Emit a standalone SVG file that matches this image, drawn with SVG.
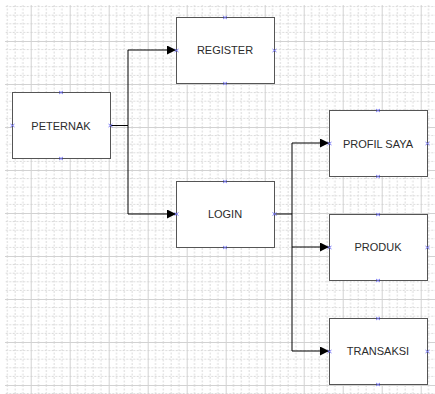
<svg xmlns="http://www.w3.org/2000/svg" width="435" height="394" viewBox="0 0 435 394">
<style>
.box{fill:#ffffff;stroke:#555555;stroke-width:1}
.lbl{font-family:"Liberation Sans",Arial,sans-serif;font-size:11px;fill:#2b2b2b;text-anchor:middle}
.edge{fill:none;stroke:#000000;stroke-width:1}
.cp{fill:none;stroke:#6f6ff5;stroke-width:0.9}
.gmin{stroke:#d9d9d9;stroke-width:1;stroke-dasharray:2,1.5}
.gmaj{stroke:#d2d2d2;stroke-width:1}
</style>
<defs>
<pattern id="grid" patternUnits="userSpaceOnUse" x="-8.3" y="-2" width="39" height="43">
<line class="gmin" x1="7.8" y1="0" x2="7.8" y2="43"/>
<line class="gmin" x1="15.6" y1="0" x2="15.6" y2="43"/>
<line class="gmin" x1="23.4" y1="0" x2="23.4" y2="43"/>
<line class="gmin" x1="31.2" y1="0" x2="31.2" y2="43"/>
<line class="gmin" x1="0" y1="8.6" x2="39" y2="8.6"/>
<line class="gmin" x1="0" y1="17.2" x2="39" y2="17.2"/>
<line class="gmin" x1="0" y1="25.8" x2="39" y2="25.8"/>
<line class="gmin" x1="0" y1="34.4" x2="39" y2="34.4"/>
<line class="gmaj" x1="0.5" y1="0" x2="0.5" y2="43"/>
<line class="gmaj" x1="0" y1="0.5" x2="39" y2="0.5"/>
</pattern>
<marker id="arr" viewBox="0 0 10 10" refX="10" refY="5" markerWidth="9" markerHeight="9" markerUnits="userSpaceOnUse" orient="auto">
<path d="M0,0 L10,5 L0,10 Z" fill="#000000"/>
</marker>
<path id="x" class="cp" d="M-2,-1.5 L2,1.5 M-2,1.5 L2,-1.5"/>
</defs>
<rect x="0" y="0" width="435" height="394" fill="#ffffff"/>
<rect x="5" y="5" width="430" height="389" fill="url(#grid)"/>
<g id="connectors">
<path class="edge" d="M110,125.5 H128 V50 H176" marker-end="url(#arr)"/>
<path class="edge" d="M128,125.5 V214 H176" marker-end="url(#arr)"/>
<path class="edge" d="M274,214 H292 V143 H329" marker-end="url(#arr)"/>
<path class="edge" d="M292,214 V247 H329" marker-end="url(#arr)"/>
<path class="edge" d="M292,247 V351 H329" marker-end="url(#arr)"/>
</g>
<g id="peternak">
<rect class="box" x="12.5" y="92.5" width="98" height="66"/>
<text class="lbl" x="61" y="129.5">PETERNAK</text>
<use href="#x" x="61" y="92.5"/><use href="#x" x="61" y="158.5"/><use href="#x" x="12.5" y="125.5"/><use href="#x" x="110.5" y="125.5"/>
</g>
<g id="register">
<rect class="box" x="176.5" y="17.5" width="98" height="66"/>
<text class="lbl" x="225" y="54">REGISTER</text>
<use href="#x" x="225" y="17.5"/><use href="#x" x="225" y="83.5"/><use href="#x" x="176.5" y="50.5"/><use href="#x" x="274.5" y="50.5"/>
</g>
<g id="login">
<rect class="box" x="176.5" y="181.5" width="98" height="66"/>
<text class="lbl" x="225" y="217.5">LOGIN</text>
<use href="#x" x="225" y="181.5"/><use href="#x" x="225" y="247.5"/><use href="#x" x="176.5" y="214"/><use href="#x" x="274.5" y="214"/>
</g>
<g id="profil-saya">
<rect class="box" x="329.5" y="110.5" width="98" height="66"/>
<text class="lbl" x="378" y="147.5">PROFIL SAYA</text>
<use href="#x" x="378" y="110.5"/><use href="#x" x="378" y="176.5"/><use href="#x" x="329.5" y="143.5"/><use href="#x" x="427.5" y="143.5"/>
</g>
<g id="produk">
<rect class="box" x="329.5" y="214.5" width="98" height="66"/>
<text class="lbl" x="378" y="251">PRODUK</text>
<use href="#x" x="378" y="214.5"/><use href="#x" x="378" y="280.5"/><use href="#x" x="329.5" y="247.5"/><use href="#x" x="427.5" y="247.5"/>
</g>
<g id="transaksi">
<rect class="box" x="329.5" y="318.5" width="98" height="66"/>
<text class="lbl" x="378" y="355">TRANSAKSI</text>
<use href="#x" x="378" y="318.5"/><use href="#x" x="378" y="384.5"/><use href="#x" x="329.5" y="351.5"/><use href="#x" x="427.5" y="351.5"/>
</g>
</svg>
